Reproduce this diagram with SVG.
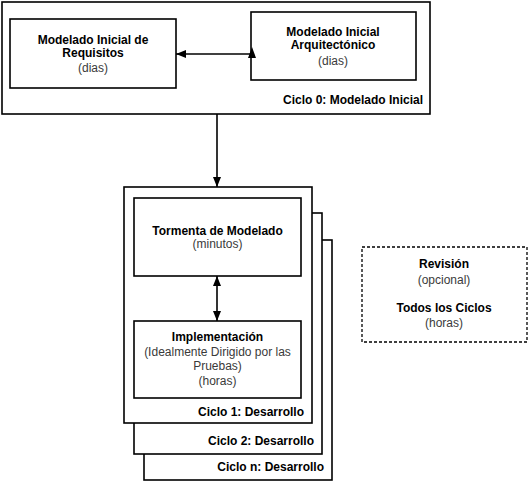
<svg xmlns="http://www.w3.org/2000/svg" width="529" height="482" viewBox="0 0 529 482">
<defs>
<style>
.box{fill:#fff;stroke:#000;stroke-width:1.6}
.dash{fill:#fff;stroke:#000;stroke-width:1.3;stroke-dasharray:3 2}
.b{font-family:"Liberation Sans",Arial,sans-serif;font-size:12px;font-weight:bold;fill:#000}
.n{font-family:"Liberation Sans",Arial,sans-serif;font-size:12px;fill:#3a3a3a}
.c{text-anchor:middle}
.r{text-anchor:end}
.ln{stroke:#000;stroke-width:1.6;fill:none}
.ah{fill:#000}
</style>
<marker id="arr" viewBox="0 0 10 8" refX="10" refY="4" markerWidth="10" markerHeight="8" markerUnits="userSpaceOnUse" orient="auto-start-reverse">
<path d="M0,0 L10,4 L0,8 Z" class="ah"/>
</marker>
</defs>
<rect width="529" height="482" fill="#fff"/>

<g id="ciclo0">
<rect class="box" x="2" y="2" width="428" height="112"/>
<text class="b r" x="423" y="104">Ciclo 0: Modelado Inicial</text>
</g>

<g id="requisitos">
<rect class="box" x="10" y="19" width="166" height="69"/>
<text class="b c" x="93" y="44">Modelado Inicial de</text>
<text class="b c" x="93" y="57">Requisitos</text>
<text class="n c" x="93" y="72">(dias)</text>
</g>

<g id="arquitectonico">
<rect class="box" x="251" y="12" width="165" height="68"/>
<text class="b c" x="333" y="36">Modelado Inicial</text>
<text class="b c" x="333" y="49">Arquitectónico</text>
<text class="n c" x="333" y="65">(dias)</text>
</g>

<g id="ciclon">
<rect class="box" x="144" y="240" width="188" height="240"/>
<text class="b r" x="324" y="471">Ciclo n: Desarrollo</text>
</g>

<g id="ciclo2">
<rect class="box" x="134" y="213" width="188" height="241"/>
<text class="b r" x="314" y="445">Ciclo 2: Desarrollo</text>
</g>

<g id="ciclo1">
<rect class="box" x="124" y="187" width="188" height="236"/>
<text class="b r" x="304" y="416">Ciclo 1: Desarrollo</text>
</g>

<g id="tormenta">
<rect class="box" x="134" y="198" width="167" height="78"/>
<text class="b c" x="217.5" y="235">Tormenta de Modelado</text>
<text class="n c" x="217.5" y="248">(minutos)</text>
</g>

<g id="implementacion">
<rect class="box" x="134" y="321" width="167" height="77"/>
<text class="b c" x="217.5" y="341">Implementación</text>
<text class="n c" x="217.5" y="356">(Idealmente Dirigido por las</text>
<text class="n c" x="217.5" y="370">Pruebas)</text>
<text class="n c" x="217.5" y="385">(horas)</text>
</g>

<g id="revision">
<rect class="dash" x="362" y="247" width="165" height="95"/>
<text class="b c" x="444" y="268">Revisión</text>
<text class="n c" x="444" y="284">(opcional)</text>
<text class="b c" x="444" y="312">Todos los Ciclos</text>
<text class="n c" x="444" y="327">(horas)</text>
</g>

<g id="connectors">
<line class="ln" x1="176" y1="54" x2="251" y2="54" marker-start="url(#arr)"/>
<polygon class="ah" points="248,58 256,58 252,47"/>
<line class="ln" x1="217" y1="114" x2="217" y2="187" marker-end="url(#arr)"/>
<line class="ln" x1="217" y1="276" x2="217" y2="321" marker-start="url(#arr)" marker-end="url(#arr)"/>
</g>
</svg>
